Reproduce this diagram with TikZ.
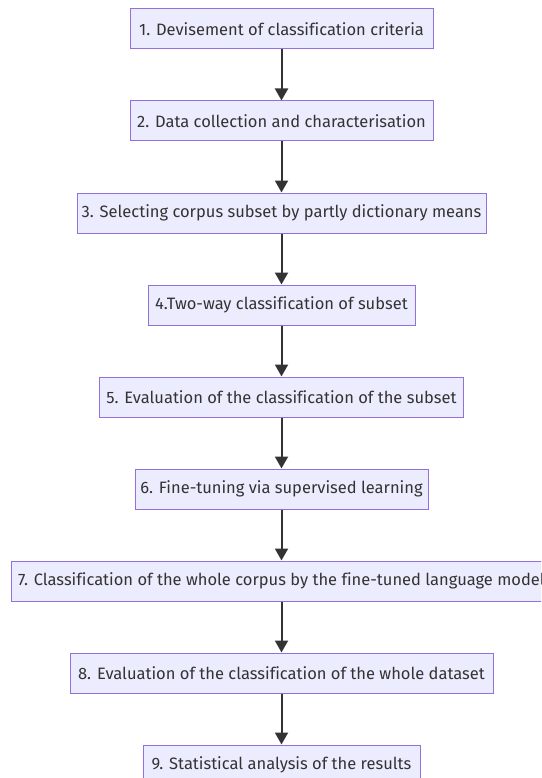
\documentclass[tikz,border=0pt]{standalone}
\usepackage{fontspec}
\setmainfont[Ligatures=NoCommon]{Fira Sans}
\usetikzlibrary{arrows.meta}
\definecolor{boxfill}{HTML}{ECECFF}
\definecolor{boxdraw}{HTML}{9370DB}
\definecolor{ink}{HTML}{333333}
\begin{document}
\begin{tikzpicture}[x=1pt,y=-1pt,
  stepbox/.style={draw=boxdraw,fill=boxfill,line width=1pt,minimum height=40pt,
    inner sep=0pt,text=ink,font=\fontsize{16.5}{19}\selectfont,anchor=center},
  flow/.style={draw=ink,line width=2pt,-{Triangle[width=13pt,length=12pt]}}]
\useasboundingbox (0,0) rectangle (541,778);
\clip (0,0) rectangle (541,778);
\node[stepbox,minimum width=303pt] (n1) at (281.5,29) {1. Devisement of classification criteria};
\node[stepbox,minimum width=303pt] (n2) at (281.5,121) {2. Data collection and characterisation};
\node[stepbox,minimum width=409pt] (n3) at (281.5,213) {3. Selecting corpus subset by partly dictionary means};
\node[stepbox,minimum width=267pt] (n4) at (281.5,305) {4.Two-way classification of subset};
\node[stepbox,minimum width=364pt] (n5) at (281.5,397) {5. Evaluation of the classification of the subset};
\node[stepbox,minimum width=293pt] (n6) at (281.5,489) {6. Fine-tuning via supervised learning};
\node[stepbox,minimum width=541pt] (n7) at (281.5,581) {7. Classification of the whole corpus by the fine-tuned language model};
\node[stepbox,minimum width=423pt] (n8) at (281.5,673) {8. Evaluation of the classification of the whole dataset};
\node[stepbox,minimum width=277pt] (n9) at (281.5,765) {9. Statistical analysis of the results};
\foreach \a/\b in {n1/n2,n2/n3,n3/n4,n4/n5,n5/n6,n6/n7,n7/n8,n8/n9}
  \draw[flow] (\a.south) -- (\b.north);
\end{tikzpicture}
\end{document}
